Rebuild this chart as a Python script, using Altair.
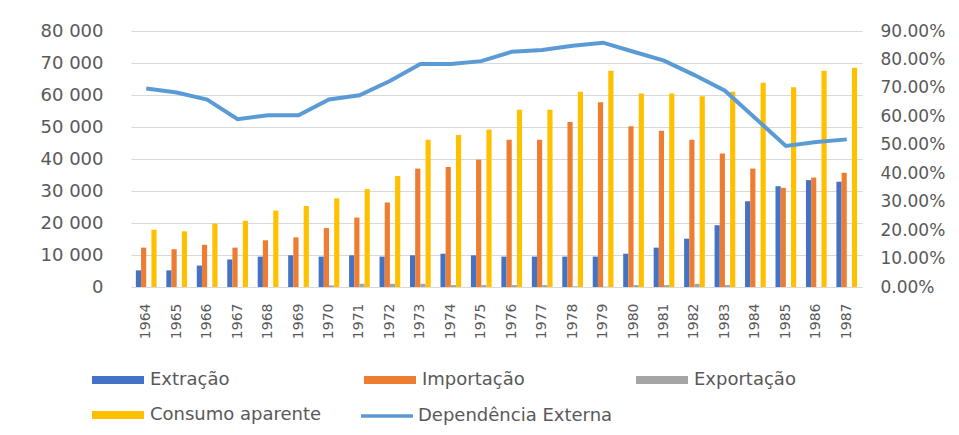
import altair as alt
import pandas as pd

years = [str(y) for y in range(1964, 1988)]
extracao = [5200, 5200, 6700, 8600, 9500, 9900, 9500, 9900, 9500, 9900, 10400, 9900,
            9500, 9500, 9500, 9500, 10400, 12300, 15100, 19300, 26800, 31500, 33400, 32900]
importacao = [12300, 11800, 13200, 12300, 14600, 15500, 18400, 21700, 26400, 37000, 37500, 39800,
              46000, 46000, 51600, 57700, 50200, 48800, 46000, 41700, 37000, 31000, 34200, 35700]
exportacao = [0, 0, 0, 0, 0, 0, 500, 1000, 1000, 1000, 600, 600,
              600, 600, 200, 100, 600, 600, 1000, 600, 0, 0, 0, 0]
consumo = [17900, 17400, 19800, 20700, 23900, 25300, 27700, 30600, 34700, 46000, 47500, 49200,
           55400, 55400, 61000, 67600, 60500, 60500, 59600, 61000, 63800, 62400, 67600, 68500]
dependencia = [0.698, 0.684, 0.659, 0.590, 0.604, 0.604, 0.659, 0.674, 0.724, 0.784, 0.784, 0.794,
               0.827, 0.833, 0.848, 0.859, 0.827, 0.796, 0.745, 0.690, 0.593, 0.496, 0.510, 0.519]

bar_series = ["Extração", "Importação", "Exportação", "Consumo aparente"]
bar_colors = ["#4472C4", "#ED7D31", "#A5A5A5", "#FFC000"]
line_series = ["Dependência Externa"]
line_colors = ["#5B9BD5"]

rows = []
for name, vals in zip(bar_series, [extracao, importacao, exportacao, consumo]):
    for y, v in zip(years, vals):
        rows.append({"year": y, "series": name, "value": v})
bars_df = pd.DataFrame(rows)
line_df = pd.DataFrame({"year": years, "dep": dependencia, "series": line_series[0]})

FONT = "DejaVu Sans"
GRAY = "#595959"

x_enc = alt.X(
    "year:N",
    sort=years,
    scale=alt.Scale(paddingInner=0.32, paddingOuter=0.16),
    axis=alt.Axis(title=None, labelAngle=270, ticks=False, domainColor="#D9D9D9",
                  labelPadding=16, labelFont=FONT, labelFontSize=14, labelColor=GRAY),
)

bar_legend = alt.Legend(
    title=None, orient="none", direction="horizontal", legendX=-39, legendY=323, columns=3,
    gridAlign="all", columnPadding=42, rowPadding=-18, symbolSize=2704,
    symbolType="M-1,-0.154H1V0.154H-1Z", symbolStrokeWidth=0,
    labelFont=FONT, labelFontSize=18, labelColor=GRAY, labelLimit=400, labelOffset=6,
    padding=0,
)
line_legend = alt.Legend(
    title=None, orient="none", direction="horizontal", legendX=228, legendY=357,
    symbolSize=2704, symbolType="stroke", symbolStrokeWidth=3.5,
    labelFont=FONT, labelFontSize=18, labelColor=GRAY, labelLimit=400, labelOffset=3,
    padding=0,
)

bars = alt.Chart(bars_df).mark_bar().encode(
    x=x_enc,
    xOffset=alt.XOffset("series:N", sort=bar_series, scale=alt.Scale(paddingInner=0, paddingOuter=0)),
    y=alt.Y("value:Q", scale=alt.Scale(domain=[0, 80000], nice=False),
            axis=alt.Axis(title=None, values=list(range(0, 80001, 10000)), grid=True,
                          gridColor="#D9D9D9", domain=False, ticks=False, labelPadding=28,
                          labelFont=FONT, labelFontSize=18, labelColor=GRAY,
                          labelExpr="replace(format(datum.value, ','), ',', ' ')")),
    color=alt.Color("series:N", scale=alt.Scale(domain=bar_series, range=bar_colors),
                    sort=bar_series, legend=bar_legend),
)

line = alt.Chart(line_df).mark_line(strokeWidth=4).encode(
    x=alt.X("year:N", sort=years),
    y=alt.Y("dep:Q", scale=alt.Scale(domain=[0, 0.9], nice=False),
            axis=alt.Axis(title=None, orient="right", values=[i / 10 for i in range(10)],
                          format=".2%", grid=False, domain=False, ticks=False, labelPadding=18,
                          labelFont=FONT, labelFontSize=17, labelColor=GRAY)),
    color=alt.Color("series:N", scale=alt.Scale(domain=line_series, range=line_colors),
                    legend=line_legend),
)

chart = alt.layer(bars, line).resolve_scale(y="independent", color="independent").properties(
    width=731, height=256,
    padding={"left": 123, "top": 23, "right": 88, "bottom": 138},
    autosize=alt.AutoSizeParams(type="none"),
).configure_view(stroke=None)

chart.save("out.html", embed_options={"renderer": "svg", "actions": False})
